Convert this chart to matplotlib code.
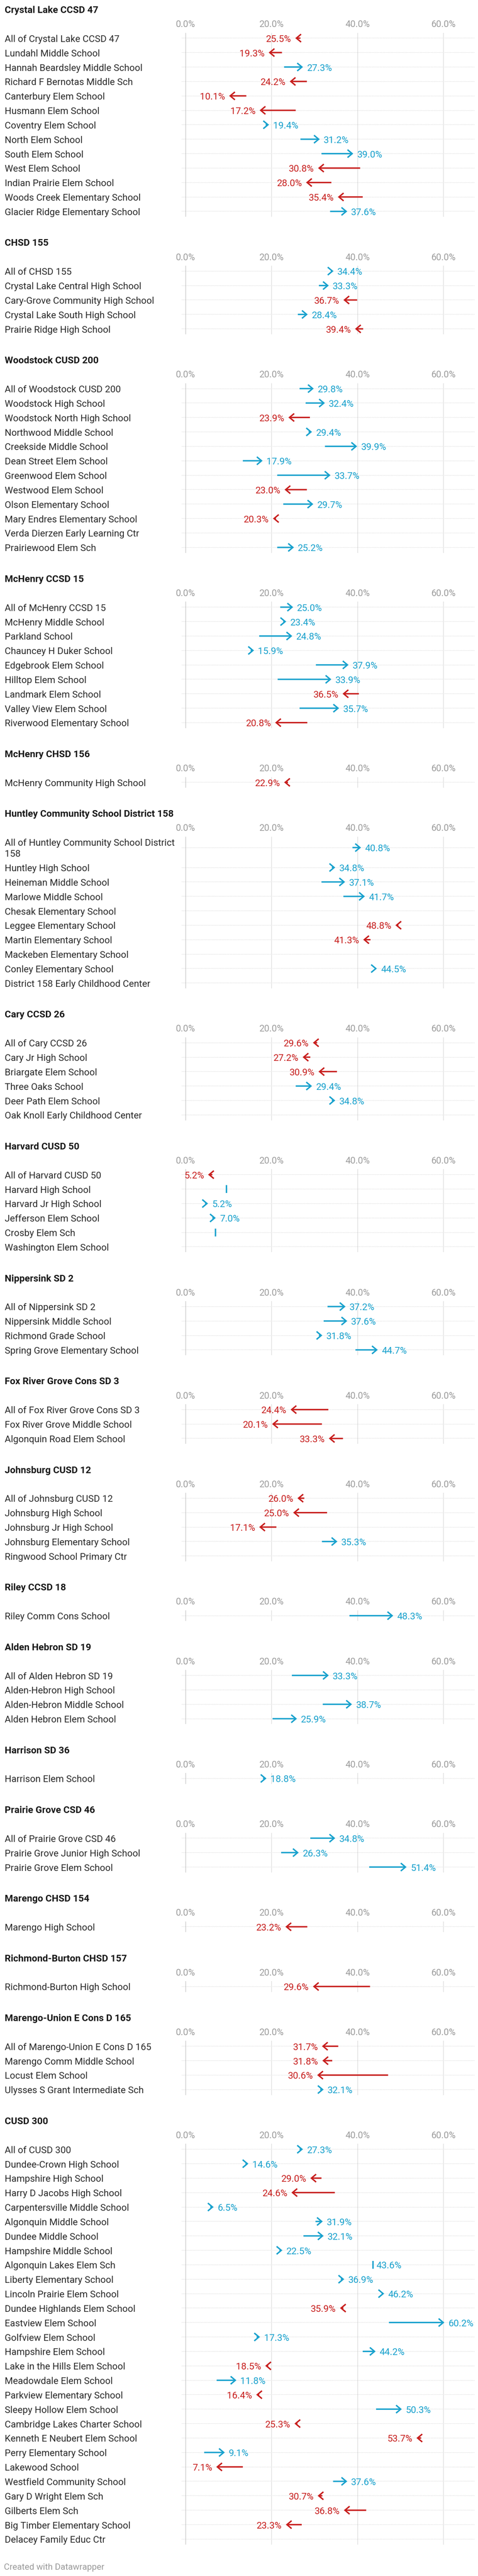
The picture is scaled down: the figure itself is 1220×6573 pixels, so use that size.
import textwrap
import matplotlib
matplotlib.use("Agg")
import matplotlib.pyplot as plt

plt.rcParams['font.family'] = ['Roboto', 'DejaVu Sans']

# ---------------- data ----------------
districts = [
    "Crystal Lake CCSD 47", "CHSD 155", "Woodstock CUSD 200", "McHenry CCSD 15",
    "McHenry CHSD 156", "Huntley Community School District 158", "Cary CCSD 26",
    "Harvard CUSD 50", "Nippersink SD 2", "Fox River Grove Cons SD 3",
    "Johnsburg CUSD 12", "Riley CCSD 18", "Alden Hebron SD 19", "Harrison SD 36",
    "Prairie Grove CSD 46", "Marengo CHSD 154", "Richmond-Burton CHSD 157",
    "Marengo-Union E Cons D 165", "CUSD 300",
]

schools = [
    ["All of Crystal Lake CCSD 47", "Lundahl Middle School", "Hannah Beardsley Middle School",
     "Richard F Bernotas Middle Sch", "Canterbury Elem School", "Husmann Elem School",
     "Coventry Elem School", "North Elem School", "South Elem School", "West Elem School",
     "Indian Prairie Elem School", "Woods Creek Elementary School", "Glacier Ridge Elementary School"],
    ["All of CHSD 155", "Crystal Lake Central High School", "Cary-Grove Community High School",
     "Crystal Lake South High School", "Prairie Ridge High School"],
    ["All of Woodstock CUSD 200", "Woodstock High School", "Woodstock North High School",
     "Northwood Middle School", "Creekside Middle School", "Dean Street Elem School",
     "Greenwood Elem School", "Westwood Elem School", "Olson Elementary School",
     "Mary Endres Elementary School", "Verda Dierzen Early Learning Ctr", "Prairiewood Elem Sch"],
    ["All of McHenry CCSD 15", "McHenry Middle School", "Parkland School", "Chauncey H Duker School",
     "Edgebrook Elem School", "Hilltop Elem School", "Landmark Elem School",
     "Valley View Elem School", "Riverwood Elementary School"],
    ["McHenry Community High School"],
    ["All of Huntley Community School District 158", "Huntley High School", "Heineman Middle School",
     "Marlowe Middle School", "Chesak Elementary School", "Leggee Elementary School",
     "Martin Elementary School", "Mackeben Elementary School", "Conley Elementary School",
     "District 158 Early Childhood Center"],
    ["All of Cary CCSD 26", "Cary Jr High School", "Briargate Elem School", "Three Oaks School",
     "Deer Path Elem School", "Oak Knoll Early Childhood Center"],
    ["All of Harvard CUSD 50", "Harvard High School", "Harvard Jr High School",
     "Jefferson Elem School", "Crosby Elem Sch", "Washington Elem School"],
    ["All of Nippersink SD 2", "Nippersink Middle School", "Richmond Grade School",
     "Spring Grove Elementary School"],
    ["All of Fox River Grove Cons SD 3", "Fox River Grove Middle School", "Algonquin Road Elem School"],
    ["All of Johnsburg CUSD 12", "Johnsburg High School", "Johnsburg Jr High School",
     "Johnsburg Elementary School", "Ringwood School Primary Ctr"],
    ["Riley Comm Cons School"],
    ["All of Alden Hebron SD 19", "Alden-Hebron High School", "Alden-Hebron Middle School",
     "Alden Hebron Elem School"],
    ["Harrison Elem School"],
    ["All of Prairie Grove CSD 46", "Prairie Grove Junior High School", "Prairie Grove Elem School"],
    ["Marengo High School"],
    ["Richmond-Burton High School"],
    ["All of Marengo-Union E Cons D 165", "Marengo Comm Middle School", "Locust Elem School",
     "Ulysses S Grant Intermediate Sch"],
    ["All of CUSD 300", "Dundee-Crown High School", "Hampshire High School", "Harry D Jacobs High School",
     "Carpentersville Middle School", "Algonquin Middle School", "Dundee Middle School",
     "Hampshire Middle School", "Algonquin Lakes Elem Sch", "Liberty Elementary School",
     "Lincoln Prairie Elem School", "Dundee Highlands Elem School", "Eastview Elem School",
     "Golfview Elem School", "Hampshire Elem School", "Lake in the Hills Elem School",
     "Meadowdale Elem School", "Parkview Elementary School", "Sleepy Hollow Elem School",
     "Cambridge Lakes Charter School", "Kenneth E Neubert Elem School", "Perry Elementary School",
     "Lakewood School", "Westfield Community School", "Gary D Wright Elem Sch", "Gilberts Elem Sch",
     "Big Timber Elementary School", "Delacey Family Educ Ctr"],
]

start_pct = [
    [26.7, 22.4, 22.9, 28.2, 14.1, 25.6, 18.6, 26.7, 31.6, 40.6, 33.9, 41.2, 33.6],
    [33.8, 31.0, 39.9, 26.1, 41.3],
    [26.5, 27.9, 28.9, 28.6, 32.4, 13.3, 21.3, 28.2, 22.7, 21.0, None, 21.3],
    [22.0, 22.7, 17.1, 15.1, 30.3, 21.4, 40.3, 26.5, 28.3],
    [23.8],
    [38.8, 34.0, 31.6, 36.7, None, 49.5, 43.0, None, 44.0, None],
    [30.6, 29.0, 35.2, 25.6, 34.0, None],
    [6.2, 9.5, 4.5, 6.2, 6.9, None],
    [33.0, 32.1, 31.0, 39.5],
    [33.2, 31.7, 36.6],
    [27.6, 32.9, 21.1, 31.7, None],
    [38.1],
    [24.7, None, 31.9, 20.2],
    [18.0],
    [29.0, 22.2, 42.7],
    [28.3],
    [42.9],
    [35.5, 34.1, 47.1, 31.3],
    [26.5, 13.9, 31.6, 34.7, 5.7, 30.2, 27.4, 21.8, 43.6, 36.1, 45.6, 36.7, 47.3, 16.5, 41.2,
     19.2, 7.2, 17.1, 44.3, 26.0, 54.8, 4.3, 13.3, 34.3, 31.8, 42.0, 27.0, None],
]

end_pct = [
    [25.5, 19.3, 27.3, 24.2, 10.1, 17.2, 19.4, 31.2, 39.0, 30.8, 28.0, 35.4, 37.6],
    [34.4, 33.3, 36.7, 28.4, 39.4],
    [29.8, 32.4, 23.9, 29.4, 39.9, 17.9, 33.7, 23.0, 29.7, 20.3, None, 25.2],
    [25.0, 23.4, 24.8, 15.9, 37.9, 33.9, 36.5, 35.7, 20.8],
    [22.9],
    [40.8, 34.8, 37.1, 41.7, None, 48.8, 41.3, None, 44.5, None],
    [29.6, 27.2, 30.9, 29.4, 34.8, None],
    [5.2, 9.5, 5.2, 7.0, 6.9, None],
    [37.2, 37.6, 31.8, 44.7],
    [24.4, 20.1, 33.3],
    [26.0, 25.0, 17.1, 35.3, None],
    [48.3],
    [33.3, None, 38.7, 25.9],
    [18.8],
    [34.8, 26.3, 51.4],
    [23.2],
    [29.6],
    [31.7, 31.8, 30.6, 32.1],
    [27.3, 14.6, 29.0, 24.6, 6.5, 31.9, 32.1, 22.5, 43.6, 36.9, 46.2, 35.9, 60.2, 17.3, 44.2,
     18.5, 11.8, 16.4, 50.3, 25.3, 53.7, 9.1, 7.1, 37.6, 30.7, 36.8, 23.3, None],
]

unlabeled = {"Harvard High School", "Crosby Elem Sch"}
x_ticks = [0, 20, 40, 60]
footer = "Created with Datawrapper"

# ---------------- style / layout ----------------
RED = '#c71e1d'
BLUE = '#18a1cd'
W, H, DPI = 1220, 6574, 100

ROW = 36.84
LINE = 28
TITLE0 = 24.3
TITLE_AXIS = 36.5
TITLE_ROW = 74
GAP = 78.4
PAD = 13.8
X_LEFT, X_ZERO, X_SIXTY, X_RIGHT = 464, 474, 1132, 1211
LABEL_X = 12
px_per_pct = (X_SIXTY - X_ZERO) / 60.0
xlim = ((X_LEFT - X_ZERO) / px_per_pct, (X_RIGHT - X_ZERO) / px_per_pct)

FS_LABEL = 17.3
FS_VALUE = 17.3
FS_TITLE = 17.6
FS_TICK = 16.8
FS_FOOT = 16
CAP = 0.711


def pt2px(pt):
    return pt * DPI / 72.0


def baseline(y_center, fs):
    return y_center + CAP * pt2px(fs) / 2.0


def fig_text(x_px, y_px, s, **kw):
    fig.text(x_px / W, 1 - y_px / H, s, **kw)


fig = plt.figure(figsize=(W / DPI, H / DPI), dpi=DPI)
fig.patch.set_facecolor('white')

title_y = TITLE0
for d, dname in enumerate(districts):
    names = schools[d]
    wrapped = [textwrap.wrap(n, 40) for n in names]
    extra = [(len(w) - 1) * LINE / 2.0 for w in wrapped]
    centers = []
    y = title_y + TITLE_ROW + extra[0]
    for i in range(len(names)):
        if i > 0:
            y += ROW + extra[i - 1] + extra[i]
        centers.append(y)
    top = centers[0] - PAD - extra[0]
    bottom = centers[-1] + PAD + extra[-1]

    ax = fig.add_axes([X_LEFT / W, 1 - bottom / H, (X_RIGHT - X_LEFT) / W, (bottom - top) / H])
    ax.set_xlim(*xlim)
    ax.set_ylim(bottom, top)
    ax.axis('off')

    # title
    fig_text(LABEL_X, baseline(title_y, FS_TITLE), dname, fontsize=FS_TITLE,
             fontweight='bold', color='#1a1a1a', va='baseline', ha='left')

    # axis tick labels
    for v in x_ticks:
        ax.text(v, baseline(title_y + TITLE_AXIS, FS_TICK), f"{v:.1f}%", ha='center',
                va='baseline', color='#9c9c9c', fontsize=FS_TICK, clip_on=False)
        ax.axvline(v, color='#d4d4d4' if v == 0 else '#e4e4e4', lw=1.4, zorder=1)

    for i, nm in enumerate(names):
        yc = centers[i]
        ax.axhline(yc, color='#d6d6d6', lw=1.1, linestyle=(0, (1, 1.3)), zorder=0.5)
        lines = wrapped[i]
        for j, ln in enumerate(lines):
            ly = yc + (j - (len(lines) - 1) / 2.0) * LINE
            fig_text(LABEL_X, baseline(ly, FS_LABEL), ln, fontsize=FS_LABEL,
                     color='#2b2b2b', va='baseline', ha='left')

        s = start_pct[d][i]
        e = end_pct[d][i]
        if e is None:
            continue
        dy = -CAP * pt2px(FS_VALUE) / 2.0
        if s == e:
            ax.plot([e, e], [yc - 10, yc + 10], color=BLUE, lw=2.6, solid_capstyle='butt', zorder=3)
            color, up = BLUE, True
            off = 8
        else:
            up = e > s
            color = BLUE if up else RED
            ax.annotate('', xy=(e, yc), xytext=(s, yc),
                        arrowprops=dict(arrowstyle='->,head_length=0.86,head_width=0.72',
                                        color=color, lw=2.6, shrinkA=0, shrinkB=0,
                                        mutation_scale=10, capstyle='butt', joinstyle='miter'),
                        zorder=3)
            off = 10
        if nm in unlabeled:
            continue
        ax.annotate(f"{e:.1f}%", xy=(e, yc), xytext=(off if up else -off, dy),
                    textcoords='offset pixels', ha='left' if up else 'right', va='baseline',
                    color=color, fontsize=FS_VALUE, zorder=4)

    title_y = centers[-1] + extra[-1] + GAP

fig_text(10, baseline(6549, FS_FOOT), footer, fontsize=FS_FOOT, color='#9a9a9a',
         va='baseline', ha='left')

fig.savefig('out.png', dpi=DPI, facecolor='white')
